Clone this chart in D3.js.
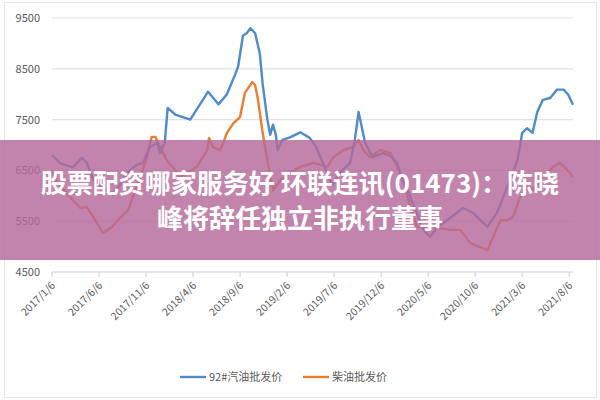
<!DOCTYPE html>
<html><head><meta charset="utf-8">
<script src="https://cdn.jsdelivr.net/npm/d3@7"></script>
<style>body{margin:0;background:#fff}svg{display:block;font-family:"Noto Sans CJK SC","Noto Sans",sans-serif}</style>
</head><body><svg id="c" width="600" height="400"></svg>
<script>
// months since 2017-01-06
const tickMonths = [0,5,10,15,20,25,30,35,40,45,50,55];
const tickLabels = ["2017/1/6","2017/6/6","2017/11/6","2018/4/6","2018/9/6","2019/2/6","2019/7/6","2019/12/6","2020/5/6","2020/10/6","2021/3/6","2021/8/6"];
const yTicks = [4500,5500,6500,7500,8500,9500];
const gasMonths = [0,0.9,2.2,3.2,3.7,4.4,5.4,6.4,7.0,8.0,9.0,9.7,10.4,11.2,11.5,12.0,12.3,13.1,14.7,16.6,17.7,18.6,19.5,19.8,20.3,20.7,21.1,21.6,22.1,22.4,22.9,23.2,23.5,23.8,24.0,24.5,25.3,26.4,27.4,28.0,28.8,29.8,30.6,31.7,32.2,32.6,33.3,34.1,35.2,36.0,36.7,37.3,38.1,39.5,40.2,41.0,42.0,43.7,44.8,46.3,47.3,48.4,49.5,50.0,50.5,51.1,51.6,52.2,53.0,53.7,54.4,54.9,55.4];
const gasValues = [6800,6640,6560,6750,6650,6310,6150,6050,6150,6450,6610,6650,6960,7040,6840,7060,7730,7600,7500,8050,7800,8000,8400,8550,9150,9200,9300,9200,8800,8200,7500,7200,7400,7200,6900,7100,7150,7250,7140,6990,6650,6210,6450,6650,7100,7650,7040,6760,6840,6780,6650,6310,5980,5330,5190,5390,5520,5760,5660,5390,5660,6170,6700,7240,7330,7240,7650,7890,7930,8090,8090,7990,7790];
const dieselMonths = [0,0.5,1.6,2.2,3.0,3.7,4.4,5.4,6.4,7.2,8.1,8.6,9.4,10.1,10.6,11.0,11.3,11.5,12.2,12.9,13.6,14.4,15.4,16.5,16.7,17.1,17.9,18.1,18.6,19.3,20.0,20.5,21.3,21.6,21.9,22.4,22.9,23.5,24.3,25.3,26.4,27.8,29.3,29.9,31.0,32.0,32.6,33.1,33.8,34.9,36.0,36.7,37.3,38.1,38.8,40.5,42.3,43.4,44.5,45.5,46.3,46.9,47.7,48.4,49.0,49.8,50.5,51.2,51.9,53.3,54.0,54.8,55.4];
const dieselValues = [6500,6270,6050,5920,5760,5780,5580,5270,5390,5560,5720,5980,6370,6760,7160,7160,7040,6960,6700,6550,6370,6450,6570,6900,7140,6960,6900,6990,7240,7430,7550,8020,8240,8180,7890,7240,6700,6110,6310,6450,6570,6650,6570,6760,6900,6960,7100,6900,6760,6900,6840,6570,6310,5780,5390,5390,5330,5330,5070,4990,4930,5190,5520,5520,5580,5980,6170,6110,6310,6570,6650,6510,6370];
const seriesNames = ["92#汽油批发价","柴油批发价"];
const title1 = "股票配资哪家服务好 环联连讯(01473)：陈晓";
const title2 = "峰将辞任独立非执行董事";

const svg = d3.select("#c");
svg.append("rect").attr("x",4.5).attr("y",2.5).attr("width",592).attr("height",395).attr("fill","#fff").attr("stroke","#e4e4e4");
const x = d3.scaleLinear().domain([0,55.4]).range([52,573]);
const y = d3.scaleLinear().domain([4500,9500]).range([272,18]);
const grid = svg.append("g");
yTicks.forEach(t=>{
  grid.append("line").attr("x1",52).attr("x2",573).attr("y1",y(t)).attr("y2",y(t)).attr("stroke",t===4500?"#d0d0d0":"#e2e2e2").attr("stroke-width",1.2);
  svg.append("text").attr("x",40).attr("y",y(t)+4).attr("text-anchor","end").attr("font-size",11).attr("fill","#595959").text(t);
});
tickMonths.forEach((m,i)=>{
  svg.append("line").attr("x1",x(m)).attr("x2",x(m)).attr("y1",272).attr("y2",277).attr("stroke","#d0d0d0");
  svg.append("text").attr("transform",`translate(${x(m)+4},${286}) rotate(-45)`).attr("text-anchor","end").attr("font-size",10.5).attr("fill","#595959").text(tickLabels[i]);
});
const line = d3.line().x(d=>x(d[0])).y(d=>y(d[1]));
const colors=["#4f8bc9","#ed7d31"];
svg.append("path").attr("d",line(dieselMonths.map((m,i)=>[m,dieselValues[i]]))).attr("fill","none").attr("stroke",colors[1]).attr("stroke-width",2.4).attr("stroke-linejoin","round");
svg.append("path").attr("d",line(gasMonths.map((m,i)=>[m,gasValues[i]]))).attr("fill","none").attr("stroke",colors[0]).attr("stroke-width",2.4).attr("stroke-linejoin","round");
// legend
[[180,seriesNames[0]],[303,seriesNames[1]]].forEach((l,i)=>{
  svg.append("line").attr("x1",l[0]).attr("x2",l[0]+26).attr("y1",377).attr("y2",377).attr("stroke",colors[i]).attr("stroke-width",2.4);
  svg.append("text").attr("x",l[0]+29).attr("y",381).attr("font-size",11).attr("fill","#595959").text(l[1]);
});
// banner
svg.append("rect").attr("x",0).attr("y",140).attr("width",600).attr("height",120).attr("fill","rgb(180,105,155)").attr("opacity",0.82);
[[title1,193],[title2,228]].forEach(t=>{
  svg.append("text").attr("x",300).attr("y",t[1]).attr("text-anchor","middle").attr("font-size",26).attr("font-weight","bold").attr("fill","#fff").text(t[0]);
});
</script></body></html>
